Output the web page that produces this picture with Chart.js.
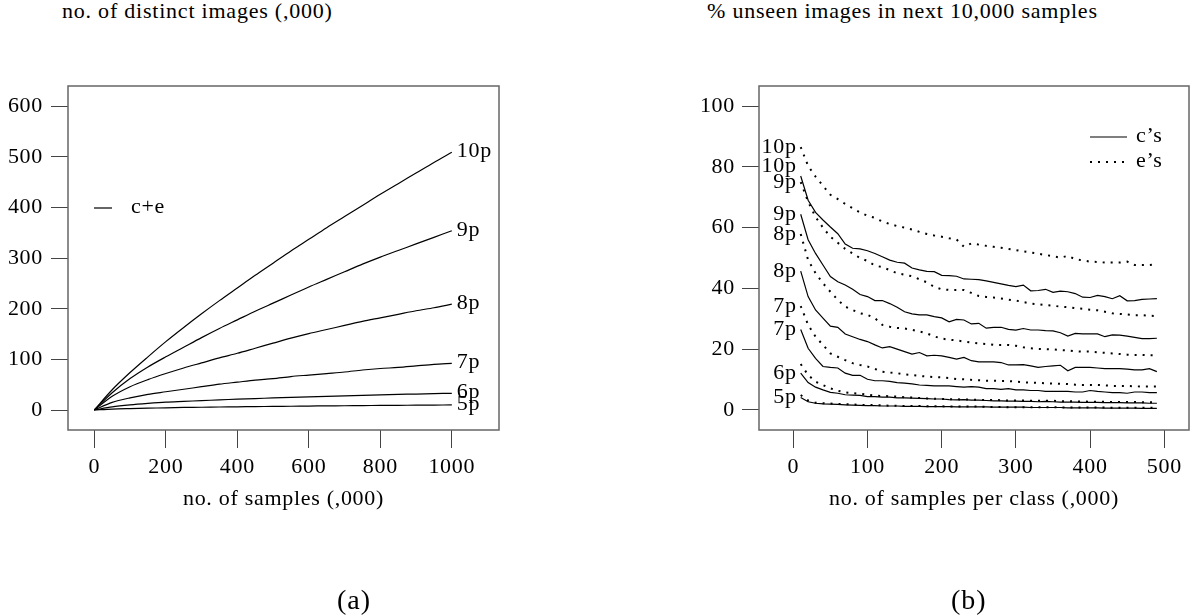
<!DOCTYPE html>
<html>
<head>
<meta charset="utf-8">
<script src="https://cdn.jsdelivr.net/npm/chart.js@4.4.1/dist/chart.umd.min.js"></script>
<style>
  body { margin: 0; background: #fff; width: 1193px; height: 615px; position: relative; overflow: hidden;
         font-family: "Liberation Serif", "Times New Roman", serif; color: #000; }
  canvas { position: absolute; top: 0; }
  .ttl { position: absolute; top: 0; font-size: 22px; line-height: 22px; white-space: nowrap; letter-spacing: 0.78px; }
  .cap { position: absolute; top: 586px; font-size: 28px; line-height: 28px; white-space: nowrap; letter-spacing: 1px; }
</style>
</head>
<body>
<div class="ttl" style="left:62px">no. of distinct images (,000)</div>
<div class="ttl" style="left:707px">% unseen images in next 10,000 samples</div>
<canvas id="chartA" width="600" height="615" style="left:0"></canvas>
<canvas id="chartB" width="593" height="615" style="left:600px"></canvas>
<div class="cap" style="left:337px">(a)</div>
<div class="cap" style="left:951px">(b)</div>

<script>
const FONT = '"Liberation Serif", "Times New Roman", serif';

// ---- panel (a): distinct images vs samples ----
const samplesA = [0, 50, 100, 150, 200, 250, 300, 350, 400, 450, 500, 550, 600, 650, 700, 750, 800, 850, 900, 950, 1000];
const distinct10p = [0, 40, 74, 105, 135, 163, 190, 216, 241, 266, 290, 314, 337, 360, 382, 404, 426, 447, 468, 489, 509];
const distinct9p  = [0, 34, 62, 85, 105, 124, 143, 161, 178, 195, 211, 227, 243, 258, 273, 288, 302, 315, 328, 341, 354];
const distinct8p  = [0, 27, 46, 60, 72, 83, 93, 103, 112, 122, 132, 142, 151, 159, 167, 175, 182, 189, 196, 202, 209];
const distinct7p  = [0, 15, 24, 31, 36, 41, 46, 51, 55, 59, 62, 66, 69, 72, 75, 79, 82, 84, 87, 90, 92];
const distinct6p  = [0, 6, 10, 13, 15.5, 17, 18.5, 20, 21.5, 22.5, 24, 25, 26, 27, 28, 29, 30, 31, 31.5, 32.5, 33];
const distinct5p  = [0, 1.8, 2.8, 3.6, 4.3, 5, 5.4, 5.9, 6.3, 6.7, 7.1, 7.4, 7.8, 8.1, 8.4, 8.7, 9, 9.3, 9.5, 9.8, 10];
const namesA = ['10p', '9p', '8p', '7p', '6p', '5p'];
const ticksAx = [0, 200, 400, 600, 800, 1000];
const ticksAy = [0, 100, 200, 300, 400, 500, 600];

// ---- panel (b): % unseen images vs samples per class ----
const samplesB = [10, 20, 30, 40, 50, 60, 70, 80, 90, 100, 110, 120, 130, 140, 150, 160, 170, 180, 190, 200,
                  210, 220, 230, 240, 250, 260, 270, 280, 290, 300, 310, 320, 330, 340, 350, 360, 370, 380, 390, 400,
                  410, 420, 430, 440, 450, 460, 470, 480, 490];
const c10p = [77, 69, 65, 62.5, 60.2, 58, 54.6, 53.2, 53, 52.4, 51.5, 50.4, 49.3, 48.6, 48.3, 46.7, 46.1, 45.6, 45.5, 44.3,
              44.2, 44, 43.1, 43, 42.9, 42.5, 42, 41.5, 41, 40.6, 41.1, 39.2, 39.3, 39.7, 38.7, 39.1, 38.9, 38.3, 37.1, 37,
              37.7, 37.3, 36.6, 37.6, 35.9, 36, 36.4, 36.5, 36.6];
const c9p = [64.4, 56, 51.5, 47.7, 43.9, 42.2, 41.1, 39.7, 38, 37.3, 36, 36, 35, 33.8, 32.3, 31.6, 31.3, 31.3, 30.7, 30.3,
             29, 29.8, 29.6, 28.3, 28.5, 26.9, 27.2, 27.2, 26.5, 26.3, 26.8, 26.3, 26.3, 26.1, 26, 25.4, 24.3, 25.2, 25, 25,
             25, 24.1, 24.7, 24.6, 24.3, 23.9, 23.5, 23.5, 23.6];
const c8p = [45.7, 37.3, 32.9, 30.2, 27.6, 27.2, 25, 24.1, 23.2, 22.5, 21.4, 20.4, 20.8, 20, 19.2, 18.4, 18.9, 17.8, 18, 17.8,
             17.3, 16.7, 17.3, 16.2, 15.8, 15.8, 15.8, 15.6, 14.8, 14.8, 14.9, 14.5, 14, 14.3, 14.5, 14.7, 12.9, 14, 14, 14,
             13.8, 13.6, 13.6, 13.6, 13.4, 13.2, 13.2, 13.6, 12.6];
const c7p = [26.5, 20.3, 17, 14.3, 14, 13.8, 12.1, 11.4, 11.4, 10.1, 9.6, 9.6, 9.4, 9, 8.8, 8.6, 8.2, 8.1, 7.9, 7.9,
             7.9, 7.7, 7.5, 7.7, 7.5, 7, 7, 6.8, 7, 6.6, 6.6, 6.4, 6.4, 6.1, 6.1, 6.1, 6.1, 5.9, 5.9, 6.4,
             6.1, 5.9, 5.7, 5.7, 5.5, 5.9, 5.9, 5.7, 5.7];
const c6p = [12.1, 9, 7.5, 6.6, 5.8, 5.5, 5, 4.9, 4.8, 4.4, 4.4, 4.2, 4.2, 4, 4, 3.9, 3.8, 3.7, 3.6, 3.6,
             3.4, 3.3, 3.4, 3.2, 3.2, 3.1, 3, 3, 2.9, 2.9, 2.8, 2.8, 2.7, 2.8, 2.7, 2.6, 2.6, 2.6, 2.5, 2.5,
             2.5, 2.4, 2.4, 2.4, 2.3, 2.3, 2.3, 2.2, 2.2];
const c5p = [4.1, 2.7, 2.2, 2, 1.9, 1.8, 1.7, 1.6, 1.5, 1.4, 1.4, 1.3, 1.3, 1.3, 1.2, 1.2, 1.2, 1.1, 1.1, 1.1,
             1.1, 1, 1, 1, 1, 1, 0.9, 0.9, 0.9, 0.9, 0.9, 0.8, 0.8, 0.8, 0.8, 0.8, 0.7, 0.7, 0.7, 0.7,
             0.7, 0.6, 0.6, 0.6, 0.6, 0.6, 0.5, 0.5, 0.5];
const e10p = [86.5, 80.3, 76.8, 73.8, 70.8, 69.4, 67.8, 66.4, 65, 63.9, 63.2, 62, 61.2, 60.5, 60, 59.4, 58.6, 57.9, 57.4, 57,
              56.5, 56.1, 53.7, 54.8, 54.4, 54, 53.7, 53.4, 53, 52.6, 52.2, 51.8, 51.4, 51, 50.6, 50.1, 50.7, 49.6, 49.2, 48.8,
              48.7, 48.5, 48.5, 48.5, 48.8, 47.7, 47.7, 47.7, 47.9];
const e9p = [75, 68.5, 63.5, 60, 57, 55, 53, 51.5, 50, 49, 47.5, 47, 46, 45, 44.5, 44, 43, 42, 40.5, 39.7,
             39.5, 39.5, 39.5, 38.5, 37.5, 37.2, 37, 36.7, 36.3, 36, 35.5, 35, 34.8, 34.5, 34.3, 34, 33.8, 33.5, 33.3, 33,
             32.8, 32.3, 31.8, 31.6, 31.4, 31.2, 31.2, 31, 30.9];
const e8p = [57.9, 49.3, 45, 41.7, 38.9, 36.2, 34, 32.9, 31.8, 31.3, 30.2, 28, 27.4, 27, 26.8, 26.4, 25.8, 25.2, 24.2, 23.5,
             23.1, 22.9, 22.5, 22.2, 21.9, 21.7, 21.4, 21.4, 21.4, 21.1, 20.6, 20.3, 20.1, 20, 19.9, 19.7, 19.6, 19.3, 19.2, 19.2,
             19, 18.8, 18.6, 18.4, 18.2, 18.1, 18.1, 18, 18];
const e7p = [34.2, 28, 24.1, 21.4, 18.6, 17.5, 16.4, 15.4, 14.8, 14.3, 13.5, 12.6, 12.3, 12.1, 11.7, 11.5, 11.2, 11, 10.8, 10.7,
             10.5, 10.2, 10.1, 9.9, 9.8, 9.6, 9.6, 9.5, 9.5, 9.3, 9.1, 9, 8.9, 8.8, 8.7, 8.6, 8.5, 8.3, 8.2, 8.2,
             8.2, 8.1, 7.9, 7.9, 7.9, 7.8, 7.7, 7.7, 7.7];
const e6p = [15.1, 11.5, 9.3, 8.2, 7.1, 6.3, 5.8, 5.5, 5.3, 5, 4.7, 4.6, 4.5, 4.4, 4.2, 4.1, 3.9, 3.8, 3.7, 3.6,
             3.5, 3.5, 3.4, 3.4, 3.3, 3.3, 3.3, 3.2, 3.1, 3.1, 3.1, 3, 3, 3, 3, 2.9, 2.9, 2.8, 2.8, 2.7,
             2.7, 2.7, 2.6, 2.6, 2.6, 2.6, 2.5, 2.5, 2.5];
const e5p = [4.9, 3.1, 2.4, 2.2, 2.1, 2, 1.9, 1.8, 1.7, 1.6, 1.6, 1.5, 1.4, 1.4, 1.3, 1.3, 1.3, 1.2, 1.2, 1.2,
             1.1, 1.1, 1.1, 1.1, 1.1, 1, 1, 1, 0.9, 0.9, 0.9, 0.9, 0.9, 0.9, 0.9, 0.8, 0.8, 0.8, 0.8, 0.8,
             0.8, 0.8, 0.7, 0.7, 0.7, 0.7, 0.7, 0.7, 0.7];
const ticksBx = [0, 100, 200, 300, 400, 500];
const ticksBy = [0, 20, 40, 60, 80, 100];

const toPoints = (xs, ys) => xs.map((x, i) => ({ x: x, y: ys[i] }));

// the original typesetting is a little looser than Liberation Serif
const spacingPlugin = {
  id: 'spacing',
  beforeDraw(chart) { chart.ctx.letterSpacing = '0.7px'; }
};

// box round the plot area
const framePlugin = {
  id: 'frame',
  afterDraw(chart) {
    const { ctx, chartArea: a } = chart;
    ctx.save();
    ctx.strokeStyle = '#666';
    ctx.lineWidth = 1.5;
    ctx.strokeRect(a.left, a.top, a.right - a.left, a.bottom - a.top);
    ctx.restore();
  }
};

// curve names written next to the curves
const curveLabelPlugin = {
  id: 'curveLabels',
  afterDatasetsDraw(chart, args, opts) {
    const ctx = chart.ctx;
    ctx.save();
    ctx.font = '22px ' + FONT;
    ctx.fillStyle = '#000';
    ctx.textBaseline = 'middle';
    chart.data.datasets.forEach((ds, i) => {
      if (!ds.tag) return;
      const pts = chart.getDatasetMeta(i).data;
      if (opts.side === 'end') {
        const p = pts[pts.length - 1];
        ctx.textAlign = 'left';
        ctx.fillText(ds.tag, p.x + 5, p.y - 1);
      } else {
        const p = pts[0];
        ctx.textAlign = 'right';
        ctx.fillText(ds.tag, p.x - 4, p.y + (ds.tagShift || 0));
      }
    });
    ctx.restore();
  }
};

function axis(min, max, values, tickLen, pad, title, fit) {
  return {
    type: 'linear', min: min, max: max,
    afterBuildTicks: s => { s.ticks = values.map(v => ({ value: v })); },
    afterFit: fit,
    ticks: { autoSkip: false, maxRotation: 0, padding: pad, color: '#000',
             font: { family: FONT, size: 22 }, callback: v => String(v) },
    grid: { drawOnChartArea: false, drawTicks: true, tickLength: tickLen, color: '#444', lineWidth: 1 },
    border: { display: false },
    title: title ? { display: true, text: title, color: '#000', padding: 0, font: { family: FONT, size: 22 } }
                 : { display: false }
  };
}

const baseOpts = {
  responsive: false,
  animation: false,
  devicePixelRatio: 1,
  plugins: { legend: { display: false }, tooltip: { enabled: false } }
};

// ---- chart (a) ----
const setA = [distinct10p, distinct9p, distinct8p, distinct7p, distinct6p, distinct5p];
new Chart(document.getElementById('chartA'), {
  type: 'line',
  data: {
    datasets: setA.map((ys, i) => ({
      tag: namesA[i],
      data: toPoints(samplesA, ys),
      borderColor: '#000', borderWidth: 1.2, pointRadius: 0, tension: 0.3
    }))
  },
  options: Object.assign({}, baseOpts, {
    layout: { padding: { top: 86, right: 101, bottom: 103, left: 0 } },
    scales: {
      x: axis(-73.6, 1132, ticksAx, 18, 6, 'no. of samples (,000)', s => { s.height = 82; }),
      y: axis(-39.5, 639.9, ticksAy, 17, 8, null, s => { s.width = 68; })
    },
    plugins: Object.assign({}, baseOpts.plugins, { curveLabels: { side: 'end' } })
  }),
  plugins: [spacingPlugin, framePlugin, curveLabelPlugin, {
    id: 'legendA',
    afterDraw(chart) {
      const { ctx, chartArea: a } = chart;
      ctx.save();
      ctx.strokeStyle = '#000';
      ctx.lineWidth = 1.2;
      ctx.beginPath();
      ctx.moveTo(a.left + 26, a.top + 122);
      ctx.lineTo(a.left + 44, a.top + 122);
      ctx.stroke();
      ctx.font = '22px ' + FONT;
      ctx.fillStyle = '#000';
      ctx.textBaseline = 'alphabetic';
      ctx.fillText('c+e', a.left + 63, a.top + 127);
      ctx.restore();
    }
  }]
});

// ---- chart (b) ----
const setB = [
  { tag: '10p', ys: e10p, dotted: true },
  { tag: '10p', ys: c10p, dotted: false, shift: -10 },
  { tag: '9p', ys: e9p, dotted: true },
  { tag: '9p', ys: c9p, dotted: false },
  { tag: '8p', ys: e8p, dotted: true },
  { tag: '8p', ys: c8p, dotted: false },
  { tag: '7p', ys: e7p, dotted: true },
  { tag: '7p', ys: c7p, dotted: false },
  { tag: null, ys: e6p, dotted: true },
  { tag: '6p', ys: c6p, dotted: false },
  { tag: null, ys: e5p, dotted: true },
  { tag: '5p', ys: c5p, dotted: false }
];
new Chart(document.getElementById('chartB'), {
  type: 'line',
  data: {
    datasets: setB.map(s => ({
      tag: s.tag,
      tagShift: s.shift || 0,
      data: toPoints(samplesB, s.ys),
      borderColor: '#000',
      borderWidth: s.dotted ? 2 : 1.2,
      borderDash: s.dotted ? [2, 6] : [],
      pointRadius: 0, tension: 0
    }))
  },
  options: Object.assign({}, baseOpts, {
    layout: { padding: { top: 86, right: 4, bottom: 103, left: 0 } },
    scales: {
      x: axis(-46.2, 533.3, ticksBx, 18, 6, 'no. of samples per class (,000)', s => { s.height = 82; }),
      y: axis(-6.6, 106.6, ticksBy, 17, 7, null, s => { s.width = 159; })
    },
    plugins: Object.assign({}, baseOpts.plugins, { curveLabels: { side: 'start' } })
  }),
  plugins: [spacingPlugin, framePlugin, curveLabelPlugin, {
    id: 'legendB',
    afterDraw(chart) {
      const { ctx, chartArea: a } = chart;
      ctx.save();
      ctx.strokeStyle = '#000';
      ctx.lineWidth = 1.2;
      ctx.beginPath();
      ctx.moveTo(a.left + 331, a.top + 51);
      ctx.lineTo(a.left + 368, a.top + 51);
      ctx.stroke();
      ctx.lineWidth = 2;
      ctx.setLineDash([2, 6]);
      ctx.beginPath();
      ctx.moveTo(a.left + 331, a.top + 76);
      ctx.lineTo(a.left + 368, a.top + 76);
      ctx.stroke();
      ctx.font = '22px ' + FONT;
      ctx.fillStyle = '#000';
      ctx.textBaseline = 'alphabetic';
      ctx.fillText('c\u2019s', a.left + 377, a.top + 56);
      ctx.fillText('e\u2019s', a.left + 377, a.top + 81);
      ctx.restore();
    }
  }]
});
</script>
</body>
</html>
